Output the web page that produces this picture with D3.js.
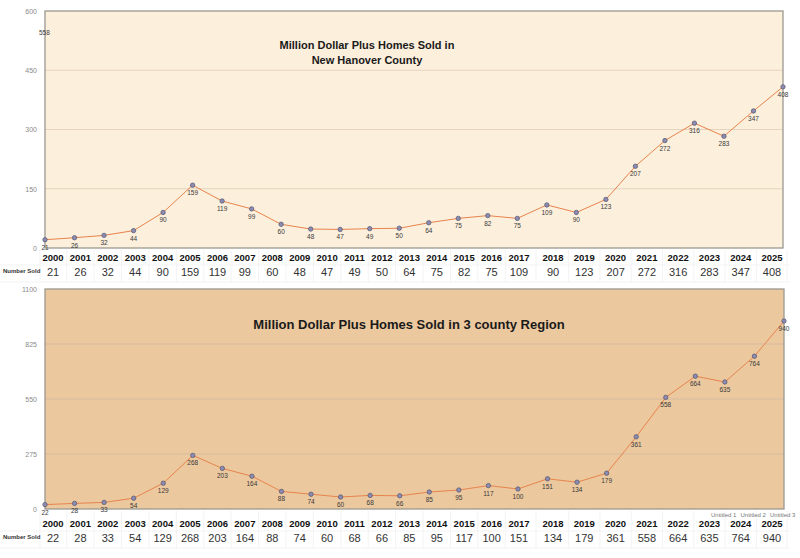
<!DOCTYPE html>
<html><head><meta charset="utf-8">
<script src="https://cdn.jsdelivr.net/npm/d3@7"></script>
<style>
html,body{margin:0;padding:0;background:#fff;}
svg{display:block;font-family:"Liberation Sans",Arial,Helvetica,sans-serif;}
</style></head>
<body>
<svg id="c" width="800" height="558"></svg>
<script>
const years = ["2000","2001","2002","2003","2004","2005","2006","2007","2008","2009","2010","2011","2012","2013","2014","2015","2016","2017","2018","2019","2020","2021","2022","2023","2024","2025"];
const nhcSold = [21,26,32,44,90,159,119,99,60,48,47,49,50,64,75,82,75,109,90,123,207,272,316,283,347,408];
const regionSold = [22,28,33,54,129,268,203,164,88,74,60,68,66,85,95,117,100,151,134,179,361,558,664,635,764,940];
const nhcTicks = [0,150,300,450,600];
const regionTicks = [0,275,550,825,1100];
const nhcTitle = ["Million Dollar Plus Homes Sold in","New Hanover County"];
const regionTitle = ["Million Dollar Plus Homes Sold in 3 county Region"];
const rowLabel = "Number Sold";
const strayLabel = "558";
const untitled = ["Untitled 1","Untitled 2","Untitled 3"];

const svg = d3.select("#c");

// table column centers (columns from 2018 on are wider)
const col = d3.scaleLinear().domain([0,17,18,25]).range([53,519,553,772]);

function panel(cfg){
  const g = svg.append("g");
  const x = d3.scalePoint().domain(years).range([cfg.x0, cfg.x1]);
  const y = d3.scaleLinear().domain([0, cfg.ticks[cfg.ticks.length-1]]).range([cfg.y1, cfg.y0]);
  g.append("rect").attr("x",cfg.x0).attr("y",cfg.y0).attr("width",cfg.x1-cfg.x0).attr("height",cfg.y1-cfg.y0)
    .attr("fill",cfg.bg);
  g.selectAll("line.grid").data(cfg.ticks.slice(1,-1)).join("line").attr("class","grid")
    .attr("x1",cfg.x0).attr("x2",cfg.x1).attr("y1",d=>y(d)).attr("y2",d=>y(d))
    .attr("stroke",cfg.grid).attr("stroke-width",1);
  g.append("rect").attr("x",cfg.x0).attr("y",cfg.y0).attr("width",cfg.x1-cfg.x0).attr("height",cfg.y1-cfg.y0)
    .attr("fill","none").attr("stroke","#9c9890").attr("stroke-width",1.3);
  const ax = d3.axisLeft(y).tickValues(cfg.ticks).tickFormat(d3.format("d")).tickSize(0).tickPadding(8);
  const ag = g.append("g").attr("transform",`translate(${cfg.x0},0)`).call(ax);
  ag.select(".domain").remove();
  ag.selectAll("text").attr("font-size",7).attr("fill","#8a8a8a").attr("font-family","Liberation Sans, Arial");
  g.selectAll("text.title").data(cfg.title).join("text").attr("class","title")
    .attr("x",cfg.tx).attr("y",(d,i)=>cfg.ty+i*15).attr("text-anchor","middle")
    .attr("font-size",cfg.tfs).attr("font-weight","bold").attr("fill","#1a1a1a").text(d=>d);
  const line = d3.line().x((d,i)=>x(years[i])).y(d=>y(d));
  g.append("path").datum(cfg.values).attr("d",line).attr("fill","none")
    .attr("stroke","#e8844c").attr("stroke-width",1);
  g.selectAll("circle").data(cfg.values).join("circle")
    .attr("cx",(d,i)=>x(years[i])).attr("cy",d=>y(d)).attr("r",2.2)
    .attr("fill","#8c8cb2").attr("stroke","#55556e").attr("stroke-width",0.7);
  g.selectAll("text.lbl").data(cfg.values).join("text").attr("class","lbl")
    .attr("x",(d,i)=>x(years[i])).attr("y",d=>y(d)+10).attr("text-anchor","middle")
    .attr("font-size",6.5).attr("fill","#3a3a3a").text(d=>d);
  const tg = g.append("g");
  const colB = years.map((d,i)=> i===0 ? col(0)-13 : (col(i-1)+col(i))/2);
  colB.push(col(25)+15);
  tg.selectAll("line.v").data(colB).join("line").attr("class","v")
    .attr("x1",d=>d).attr("x2",d=>d).attr("y1",cfg.y1+2).attr("y2",cfg.tb+3)
    .attr("stroke","#f3f3f3");
  tg.selectAll("line.h").data([cfg.tm, cfg.tb+3]).join("line").attr("class","h")
    .attr("x1",0).attr("x2",790).attr("y1",d=>d).attr("y2",d=>d).attr("stroke","#f3f3f3");
  tg.selectAll("text.yr").data(years).join("text").attr("class","yr")
    .attr("x",(d,i)=>col(i)).attr("y",cfg.hy).attr("text-anchor","middle")
    .attr("font-size",9.5).attr("font-weight","bold").attr("fill","#111").text(d=>d);
  tg.selectAll("text.val").data(cfg.values).join("text").attr("class","val")
    .attr("x",(d,i)=>col(i)).attr("y",cfg.vy).attr("text-anchor","middle")
    .attr("font-size",11).attr("fill","#333").text(d=>d);
  tg.append("text").attr("x",3).attr("y",cfg.vy-3).attr("font-size",6).attr("font-weight","bold")
    .attr("fill","#333").text(rowLabel);
  return {g,x,y};
}

const topPanel = panel({x0:45,x1:783,y0:11,y1:248,ticks:nhcTicks,values:nhcSold,bg:"#fcefdc",grid:"#e6d3bd",
  title:nhcTitle,tx:367,ty:49,tfs:11,hy:261,vy:276,tm:265,tb:279});
topPanel.g.append("text").attr("x",39).attr("y",35).attr("font-size",6.5).attr("fill","#3a3a3a").text(strayLabel);

const botPanel = panel({x0:45,x1:784,y0:289,y1:509,ticks:regionTicks,values:regionSold,bg:"#ebc89e",grid:"#d6bba0",
  title:regionTitle,tx:409,ty:329,tfs:13,hy:527,vy:542,tm:531,tb:545});
botPanel.g.selectAll("text.unt").data(untitled).join("text").attr("class","unt")
  .attr("x",(d,i)=>711+i*29.5).attr("y",517).attr("font-size",6).attr("fill","#777").text(d=>d);
</script>
</body></html>
